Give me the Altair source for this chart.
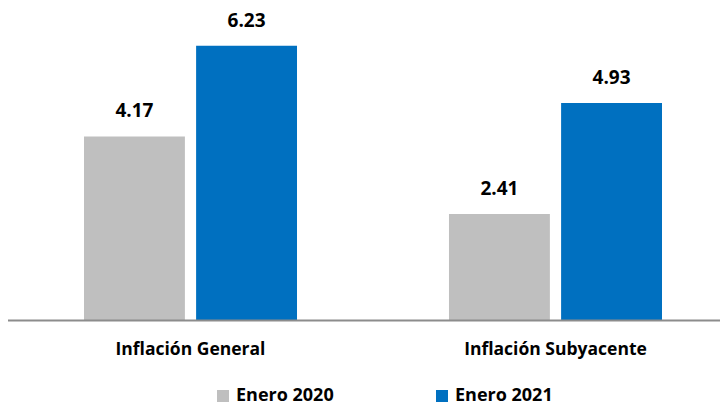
import altair as alt
import pandas as pd

categories = ["Inflación General", "Inflación Subyacente"]
series = ["Enero 2020", "Enero 2021"]
values_2020 = [4.17, 2.41]
values_2021 = [6.23, 4.93]

rows = []
for c, a, b in zip(categories, values_2020, values_2021):
    rows.append({"cat": c, "serie": series[0], "val": a})
    rows.append({"cat": c, "serie": series[1], "val": b})
df = pd.DataFrame(rows)

FONT = "Open Sans"
colors = ["#BFBFBF", "#0070C0"]

x = alt.X("cat:N", sort=categories, title=None,
          scale=alt.Scale(paddingInner=0.4164, paddingOuter=0.1589),
          axis=alt.Axis(labelAngle=0, labelFont=FONT, labelFontSize=17.5, labelFontWeight="bold",
                        labelColor="#000000", labelPadding=20, labelLimit=400,
                        ticks=False, domain=False))
xo = alt.XOffset("serie:N", sort=series, scale=alt.Scale(paddingInner=0.1, paddingOuter=0))
y = alt.Y("val:Q", scale=alt.Scale(domain=[0, 7.09], nice=False, zero=True), axis=None)

bars = alt.Chart(df).mark_bar().encode(
    x=x, xOffset=xo, y=y,
    color=alt.Color("serie:N", sort=series, scale=alt.Scale(domain=series, range=colors),
                    legend=alt.Legend(title=None, orient="none", direction="horizontal",
                                      legendX=188, legendY=379, symbolType="square",
                                      symbolSize=144, symbolStrokeWidth=0,
                                      labelFont=FONT, labelFontSize=18, labelFontWeight="bold",
                                      labelColor="#000000", labelOffset=4, columnPadding=99)),
)

labels = alt.Chart(df).mark_text(baseline="alphabetic", dy=-19, font=FONT, fontSize=19,
                                 fontWeight="bold", color="#000000").encode(
    x=x, xOffset=xo, y=y, text=alt.Text("val:Q", format=".2f")
)

baseline_rule = alt.Chart(pd.DataFrame({"k": [0]})).mark_rule(color="#8C8C8C", strokeWidth=2).encode(
    x=alt.value(-19), x2=alt.value(694), y=alt.value(312.5)
)

chart = (bars + labels + baseline_rule).properties(
    width=694, height=312,
    autosize=alt.AutoSizeParams(type="none"),
    padding={"left": 18, "top": 0, "right": 0, "bottom": 82},
).configure_view(stroke=None)

chart.save("out.html", embed_options={"renderer": "svg", "actions": False})
